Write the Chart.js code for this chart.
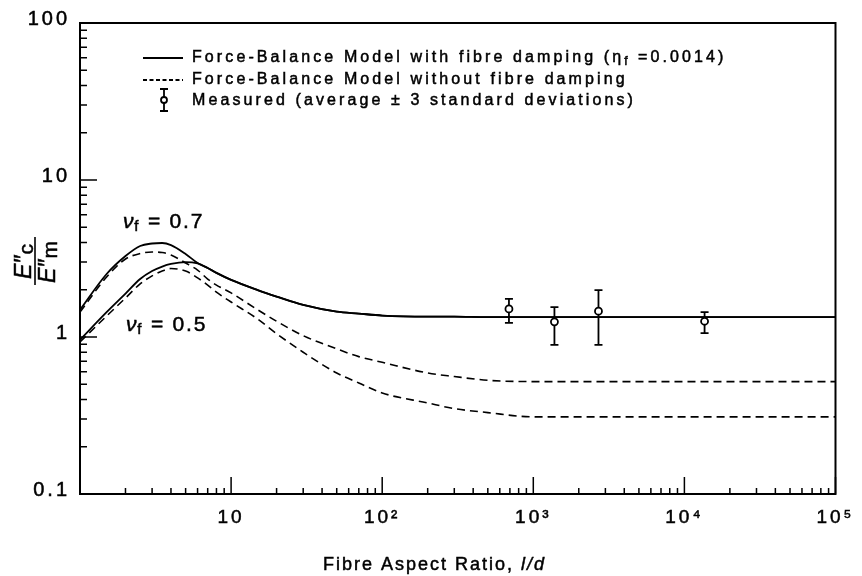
<!DOCTYPE html>
<html>
<head>
<meta charset="utf-8">
<script src="https://cdn.jsdelivr.net/npm/chart.js@4.4.1/dist/chart.umd.min.js"></script>
<style>
  html, body { margin: 0; padding: 0; background: #fff; }
  #wrap { width: 862px; height: 576px; }
</style>
</head>
<body>
<div id="wrap"><canvas id="chart" width="862" height="576"></canvas></div>
<script>
const aspectRatio = [1, 1.5, 2, 2.5, 3, 3.5, 4, 5, 6, 7, 8, 10, 15, 20, 30, 50, 70, 100, 200, 300, 500, 1000, 10000, 100000];

// Force-Balance model, met en zonder vezeldemping
const withDamping07 = [1.49, 2.52, 3.28, 3.80, 3.94, 3.97, 3.85, 3.38, 2.96, 2.75, 2.56, 2.31, 1.99, 1.81, 1.60, 1.45, 1.41, 1.37, 1.35, 1.35, 1.34, 1.34, 1.34, 1.34];
const withDamping05 = [0.96, 1.44, 1.89, 2.34, 2.63, 2.81, 2.92, 3.00, 2.94, 2.75, 2.56, 2.31, 1.99, 1.81, 1.60, 1.45, 1.41, 1.37, 1.35, 1.35, 1.34, 1.34, 1.34, 1.34];
const noDamping07 = [1.44, 2.41, 3.14, 3.40, 3.48, 3.45, 3.33, 2.96, 2.67, 2.34, 2.14, 1.91, 1.49, 1.26, 1.02, 0.84, 0.75, 0.69, 0.59, 0.56, 0.53, 0.52, 0.52, 0.52];
const noDamping05 = [0.93, 1.36, 1.77, 2.18, 2.45, 2.63, 2.73, 2.63, 2.38, 2.14, 1.93, 1.67, 1.30, 1.05, 0.80, 0.59, 0.51, 0.44, 0.38, 0.35, 0.33, 0.31, 0.31, 0.31];

// Metingen (gemiddelde +/- 3 standaarddeviaties)
const measuredRatio = [690, 1380, 2700, 13600];
const measuredMean = [1.51, 1.25, 1.46, 1.26];
const measuredLow = [1.23, 0.89, 0.89, 1.06];
const measuredHigh = [1.75, 1.55, 1.99, 1.44];

// As-labels
const xMajor = [10, 100, 1000, 10000, 100000];
const xMajorLabels = ['10', '10\u00B2', '10\u00B3', '10\u2074', '10\u2075'];
const yMajor = [0.1, 1, 10, 100];
const yMajorLabels = ['0.1', '1', '10', '100'];

const legendLabels = [
    ['Force-Balance Model with fibre damping (\u03B7', 'f', ' =0.0014)'],
    ['Force-Balance Model without fibre damping'],
    ['Measured (average \u00B1 3 standard deviations)']
];

const fontFamily = '"Liberation Sans", Arial, sans-serif';

function toPoints(ys) {
    return ys.map((y, i) => ({ x: aspectRatio[i], y: y }));
}

// log-ticks: 1..9 per decade
function logTicks(from, to) {
    const ticks = [];
    for (let d = from; d < to * 0.99; d *= 10) {
        for (let m = 1; m < 10; m++) ticks.push({ value: +(d * m).toPrecision(6), major: m === 1 });
    }
    ticks.push({ value: to, major: true });
    return ticks;
}

// tekst in stukken tekenen (voor subscripts), iets aangedikt zoals de scan
function drawParts(ctx, parts, x, y) {
    let cx = x;
    parts.forEach(p => {
        ctx.font = p.font;
        ctx.fillText(p.text, cx, y + (p.dy || 0));
        ctx.strokeText(p.text, cx, y + (p.dy || 0));
        cx += ctx.measureText(p.text).width + (p.gap || 0);
    });
}

const decorPlugin = {
    id: 'decor',
    beforeDraw(chart) {
        chart.ctx.letterSpacing = '3px';
    },
    beforeDatasetsDraw(chart) {
        // foutbalken onder de meetpunten
        const ctx = chart.ctx;
        const xs = chart.scales.x, ys = chart.scales.y;
        ctx.save();
        ctx.strokeStyle = '#000';
        ctx.lineWidth = 1.8;
        measuredRatio.forEach((r, i) => {
            const px = xs.getPixelForValue(r);
            const top = ys.getPixelForValue(measuredHigh[i]);
            const bot = ys.getPixelForValue(measuredLow[i]);
            ctx.beginPath();
            ctx.moveTo(px, top); ctx.lineTo(px, bot);
            ctx.moveTo(px - 4, top); ctx.lineTo(px + 4, top);
            ctx.moveTo(px - 4, bot); ctx.lineTo(px + 4, bot);
            ctx.stroke();
        });
        ctx.restore();
    },
    afterDraw(chart) {
        const ctx = chart.ctx;
        const ca = chart.chartArea;
        const xs = chart.scales.x, ys = chart.scales.y;
        ctx.save();
        ctx.letterSpacing = '0px';
        ctx.strokeStyle = '#000';
        ctx.fillStyle = '#000';

        // kader
        ctx.lineWidth = 2;
        ctx.strokeRect(ca.left, ca.top, ca.right - ca.left, ca.bottom - ca.top);

        // tickmarks naar binnen
        ctx.lineWidth = 1.5;
        ctx.beginPath();
        xs.ticks.forEach(t => {
            const px = xs.getPixelForValue(t.value);
            const len = t.major ? 17 : 6;
            ctx.moveTo(px, ca.bottom); ctx.lineTo(px, ca.bottom - len);
        });
        ys.ticks.forEach(t => {
            const py = ys.getPixelForValue(t.value);
            const len = t.major ? 17 : 7;
            ctx.moveTo(ca.left, py); ctx.lineTo(ca.left + len, py);
        });
        ctx.stroke();

        // legenda
        const lx = ca.left + 63, tx = ca.left + 112;
        const rows = [ca.top + 35, ca.top + 57, ca.top + 78];
        ctx.lineWidth = 1.8;
        ctx.beginPath(); ctx.moveTo(lx, rows[0]); ctx.lineTo(lx + 40, rows[0]); ctx.stroke();
        ctx.setLineDash([4, 2.5]);
        ctx.beginPath(); ctx.moveTo(lx, rows[1]); ctx.lineTo(lx + 40, rows[1]); ctx.stroke();
        ctx.setLineDash([]);
        const ex = lx + 21;
        ctx.beginPath();
        ctx.moveTo(ex, rows[2] - 12); ctx.lineTo(ex, rows[2] + 10);
        ctx.moveTo(ex - 4, rows[2] - 12); ctx.lineTo(ex + 4, rows[2] - 12);
        ctx.moveTo(ex - 4, rows[2] + 10); ctx.lineTo(ex + 4, rows[2] + 10);
        ctx.stroke();
        ctx.beginPath(); ctx.arc(ex, rows[2] - 1, 3, 0, Math.PI * 2);
        ctx.fillStyle = '#fff'; ctx.fill(); ctx.stroke();
        ctx.fillStyle = '#000';

        ctx.lineWidth = 0.5;
        ctx.textBaseline = 'middle';
        ctx.textAlign = 'left';
        ctx.letterSpacing = '3.1px';
        const f16 = '16px ' + fontFamily, f12 = '12px ' + fontFamily;
        drawParts(ctx, [
            { text: legendLabels[0][0], font: f16 },
            { text: legendLabels[0][1], font: f12, dy: 4 },
            { text: legendLabels[0][2], font: f16 }
        ], tx, rows[0]);
        drawParts(ctx, [{ text: legendLabels[1][0], font: f16 }], tx, rows[1]);
        drawParts(ctx, [{ text: legendLabels[2][0], font: f16 }], tx, rows[2]);

        // annotaties bij de curves
        ctx.letterSpacing = '1.8px';
        const nuParts = (v) => [
            { text: '\u03BD', font: 'italic 21px ' + fontFamily, gap: -1 },
            { text: 'f', font: '15px ' + fontFamily, dy: 5 },
            { text: ' = ' + v, font: '21px ' + fontFamily }
        ];
        drawParts(ctx, nuParts('0.7'), ca.left + 43, ca.top + 199);
        drawParts(ctx, nuParts('0.5'), ca.left + 46, ca.top + 302);

        // x-as titel
        ctx.letterSpacing = '2px';
        ctx.textBaseline = 'alphabetic';
        drawParts(ctx, [
            { text: 'Fibre Aspect Ratio, ', font: '18px ' + fontFamily },
            { text: 'l/d', font: 'italic 18px ' + fontFamily }
        ], ca.left + 243, 570);

        // y-as titel: E''c / E''m
        ctx.translate(35, ca.top + 240);
        ctx.rotate(-Math.PI / 2);
        ctx.letterSpacing = '0px';
        ctx.textAlign = 'left';
        ctx.textBaseline = 'alphabetic';
        drawParts(ctx, [
            { text: 'E\u2033', font: 'italic 23px ' + fontFamily, gap: 1 },
            { text: 'c', font: '21px ' + fontFamily, dy: 2 }
        ], -16, -4);
        ctx.lineWidth = 1.6;
        ctx.beginPath(); ctx.moveTo(-22, 0); ctx.lineTo(26, 0); ctx.stroke();
        ctx.lineWidth = 0.5;
        drawParts(ctx, [
            { text: 'E\u2033', font: 'italic 23px ' + fontFamily, gap: 1 },
            { text: 'm', font: '21px ' + fontFamily, dy: 2 }
        ], -20, 20);
        ctx.restore();
    }
};

Chart.defaults.color = '#000';
Chart.defaults.font.family = fontFamily;

const ctx = document.getElementById('chart').getContext('2d');
const chart = new Chart(ctx, {
    type: 'line',
    data: {
        datasets: [
            {
                label: 'Measured',
                data: measuredRatio.map((r, i) => ({ x: r, y: measuredMean[i] })),
                showLine: false,
                pointRadius: 3.5,
                pointBackgroundColor: '#fff',
                pointBorderColor: '#000',
                pointBorderWidth: 1.8
            },
            {
                label: 'with damping 0.7',
                data: toPoints(withDamping07),
                borderColor: '#000', borderWidth: 1.8, pointRadius: 0,
                cubicInterpolationMode: 'monotone'
            },
            {
                label: 'with damping 0.5',
                data: toPoints(withDamping05),
                borderColor: '#000', borderWidth: 1.8, pointRadius: 0,
                cubicInterpolationMode: 'monotone'
            },
            {
                label: 'without damping 0.7',
                data: toPoints(noDamping07),
                borderColor: '#000', borderWidth: 1.6, borderDash: [8, 5], pointRadius: 0,
                cubicInterpolationMode: 'monotone'
            },
            {
                label: 'without damping 0.5',
                data: toPoints(noDamping05),
                borderColor: '#000', borderWidth: 1.6, borderDash: [8, 5], pointRadius: 0,
                cubicInterpolationMode: 'monotone'
            }
        ]
    },
    options: {
        responsive: false,
        animation: false,
        events: [],
        layout: { padding: { left: 0, top: 23, right: 19, bottom: 0 } },
        plugins: { legend: { display: false }, tooltip: { enabled: false } },
        scales: {
            x: {
                type: 'logarithmic',
                min: 1, max: 100000,
                afterBuildTicks: (scale) => { scale.ticks = logTicks(1, 100000); },
                afterFit: (scale) => { scale.height = 82; },
                grid: { display: false, drawTicks: false },
                border: { display: false },
                ticks: {
                    autoSkip: false, maxRotation: 0, padding: 12,
                    font: { size: 19 },
                    textStrokeColor: '#000', textStrokeWidth: 0.5,
                    callback: (value) => {
                        const i = xMajor.indexOf(value);
                        return i >= 0 ? xMajorLabels[i] : '';
                    }
                }
            },
            y: {
                type: 'logarithmic',
                min: 0.1, max: 100,
                afterBuildTicks: (scale) => { scale.ticks = logTicks(0.1, 100); },
                afterFit: (scale) => { scale.width = 80; },
                grid: { display: false, drawTicks: false },
                border: { display: false },
                ticks: {
                    autoSkip: false, padding: 10, labelOffset: -4,
                    font: { size: 20 },
                    textStrokeColor: '#000', textStrokeWidth: 0.5,
                    callback: (value) => {
                        const i = yMajor.indexOf(value);
                        return i >= 0 ? yMajorLabels[i] : '';
                    }
                }
            }
        }
    },
    plugins: [decorPlugin]
});
</script>
</body>
</html>
